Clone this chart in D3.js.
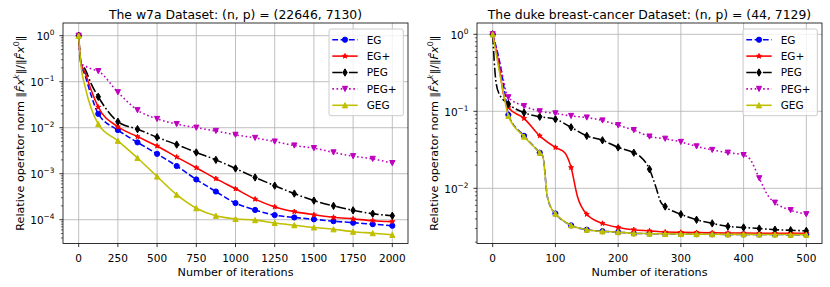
<!DOCTYPE html>
<html>
<head>
<meta charset="utf-8">
<script src="https://cdn.jsdelivr.net/npm/d3@7"></script>
<style>
  body { margin: 0; background: #fff; }
  text { font-family: "DejaVu Sans", sans-serif; fill: #000; }
</style>
</head>
<body>
<svg id="chart" width="830" height="287"></svg>
<script>
// ---- data, [iteration, relative operator norm] ----
const seriesNames = ['EG', 'EG+', 'PEG', 'PEG+', 'GEG'];

const w7aXTicks = [0, 250, 500, 750, 1000, 1250, 1500, 1750, 2000];
const w7aYTicks = [0, -1, -2, -3, -4];   // decades
const w7aEG = [[0,1],[15,0.25],[40,0.14],[80,0.05],[125,0.02],[250,0.0089],[375,0.0048],[500,0.0027],[625,0.00147],[750,0.00075],[875,0.00041],[1000,0.00023],[1125,0.000163],[1250,0.000126],[1375,0.000112],[1500,0.000102],[1625,0.000093],[1750,0.000086],[1875,0.00008],[2000,0.000074]];
const w7aEGplus = [[0,1],[15,0.25],[40,0.16],[80,0.065],[125,0.028],[250,0.0105],[375,0.0064],[500,0.004],[625,0.0023],[750,0.00135],[875,0.00078],[1000,0.00047],[1125,0.00028],[1250,0.00019],[1375,0.00015],[1500,0.000128],[1625,0.000113],[1750,0.000104],[1875,0.000095],[2000,0.000091]];
const w7aPEG = [[0,1],[15,0.25],[40,0.19],[80,0.09],[125,0.047],[250,0.0135],[375,0.0093],[500,0.0062],[625,0.0043],[750,0.0029],[875,0.002],[1000,0.0013],[1125,0.00083],[1250,0.00055],[1375,0.00037],[1500,0.00026],[1625,0.0002],[1750,0.00016],[1875,0.000135],[2000,0.000122]];
const w7aPEGplus = [[0,1],[15,0.25],[40,0.22],[80,0.19],[125,0.17],[250,0.059],[375,0.024],[500,0.0155],[625,0.012],[750,0.01],[875,0.0085],[1000,0.007],[1125,0.006],[1250,0.005],[1375,0.0041],[1500,0.0036],[1625,0.0029],[1750,0.0024],[1875,0.0021],[2000,0.0017]];
const w7aGEG = [[0,1],[15,0.22],[40,0.08],[80,0.026],[125,0.012],[250,0.0052],[375,0.0022],[500,0.00087],[625,0.00035],[750,0.000178],[875,0.000122],[1000,0.000104],[1125,0.000098],[1250,0.000085],[1375,0.000076],[1500,0.000068],[1625,0.000062],[1750,0.000055],[1875,0.000051],[2000,0.000047]];

const dukeXTicks = [0, 100, 200, 300, 400, 500];
const dukeYTicks = [0, -1, -2];
const dukeEG = [[0,1],[12,0.4],[20,0.16],[25,0.09],[50,0.048],[75,0.029],[80,0.026],[87,0.0079],[92,0.0058],[100,0.0047],[125,0.0033],[150,0.0029],[175,0.00277],[200,0.0027],[225,0.0026],[250,0.00258],[275,0.00256],[300,0.00255],[325,0.00254],[350,0.00253],[375,0.00252],[400,0.00252],[425,0.00251],[450,0.00251],[475,0.0025],[500,0.0025]];
const dukeEGplus = [[0,1],[10,0.4],[17,0.17],[25,0.112],[50,0.081],[75,0.048],[100,0.034],[115,0.029],[125,0.0186],[135,0.0079],[150,0.0046],[175,0.0035],[200,0.0031],[225,0.0029],[250,0.0028],[275,0.0027],[300,0.00268],[325,0.00266],[350,0.00264],[375,0.00263],[400,0.00262],[425,0.00261],[450,0.0026],[475,0.0026],[500,0.0026]];
const dukePEG = [[0,1],[5,0.25],[10,0.17],[25,0.125],[50,0.096],[75,0.085],[100,0.079],[125,0.062],[150,0.048],[175,0.042],[200,0.034],[225,0.029],[235,0.026],[250,0.0177],[260,0.0105],[268,0.0066],[275,0.0058],[300,0.0046],[325,0.0039],[350,0.0035],[375,0.0032],[400,0.0031],[425,0.003],[450,0.0029],[475,0.00285],[500,0.0028]];
const dukePEGplus = [[0,1],[12,0.4],[25,0.152],[50,0.117],[75,0.1],[100,0.094],[125,0.087],[150,0.083],[175,0.076],[200,0.066],[225,0.057],[250,0.047],[275,0.044],[300,0.04],[325,0.035],[350,0.0315],[375,0.029],[400,0.027],[410,0.024],[425,0.0135],[440,0.0078],[450,0.0065],[475,0.0052],[500,0.0046]];
const dukeGEG = [[0,1],[10,0.35],[18,0.16],[25,0.087],[50,0.047],[75,0.029],[80,0.026],[87,0.0079],[92,0.0058],[100,0.0047],[125,0.0033],[150,0.0029],[175,0.00276],[200,0.0027],[225,0.0026],[250,0.00258],[275,0.00256],[300,0.00255],[325,0.00254],[350,0.00253],[375,0.00252],[400,0.00252],[425,0.00251],[450,0.00251],[475,0.0025],[500,0.0025]];

// ---- styles (matplotlib-like) ----
const styles = {
  'EG':   { color: '#0000ff', dash: '5.8,2.5', marker: 'o' },
  'EG+':  { color: '#ff0000', dash: null, marker: '*' },
  'PEG':  { color: '#000000', dash: '10,2.5,1.6,2.5', marker: 'd' },
  'PEG+': { color: '#bf00bf', dash: '1.6,2.6', marker: 'v' },
  'GEG':  { color: '#bfbf00', dash: null, marker: '^' }
};
const ms = 5.2;

function markerPath(type) {
  const r = ms / 2;
  if (type === 'o') return d3.symbol(d3.symbolCircle, Math.PI * r * r)();
  if (type === '*') {
    const pts = [];
    for (let i = 0; i < 10; i++) {
      const a = -Math.PI / 2 + i * Math.PI / 5;
      const rr = i % 2 ? r * 0.382 : r;
      pts.push([rr * Math.cos(a), rr * Math.sin(a)]);
    }
    return 'M' + pts.join('L') + 'Z';
  }
  if (type === 'd') {
    const h = ms * 0.707, w = h * 0.6;
    return `M0,${-h}L${w},0L0,${h}L${-w},0Z`;
  }
  if (type === 'v') return `M0,${r}L${-r},${-r}L${r},${-r}Z`;
  return `M0,${-r}L${-r},${r}L${r},${r}Z`;
}

const svg = d3.select('#chart');

function panel(p) {
  const g = svg.append('g');
  const x = d3.scaleLinear().domain(p.xDomain).range([p.left, p.right]);
  const y = d3.scaleLog().domain(p.yDomain).range([p.bottom, p.top]);

  const lo = Math.floor(Math.log10(p.yDomain[0])), hi = Math.ceil(Math.log10(p.yDomain[1]));
  const minor = [];
  for (let e = lo; e < hi; e++) for (let m = 2; m < 10; m++) {
    const v = m * Math.pow(10, e);
    if (v >= p.yDomain[0] && v <= p.yDomain[1]) minor.push(v);
  }

  // grid
  g.append('g').selectAll('line').data(p.xTicks).join('line')
    .attr('x1', d => x(d)).attr('x2', d => x(d))
    .attr('y1', p.top).attr('y2', p.bottom)
    .attr('stroke', '#b0b0b0').attr('stroke-width', 0.8);
  g.append('g').selectAll('line').data(p.yTicks).join('line')
    .attr('x1', p.left).attr('x2', p.right)
    .attr('y1', d => y(Math.pow(10, d))).attr('y2', d => y(Math.pow(10, d)))
    .attr('stroke', '#b0b0b0').attr('stroke-width', 0.8);

  // clip
  const clipId = 'clip' + p.id;
  svg.append('clipPath').attr('id', clipId).append('rect')
    .attr('x', p.left).attr('y', p.top)
    .attr('width', p.right - p.left).attr('height', p.bottom - p.top);

  const line = d3.line().x(d => x(d[0])).y(d => y(d[1])).curve(d3.curveMonotoneX);
  const plot = g.append('g').attr('clip-path', `url(#${clipId})`);

  seriesNames.forEach((name, i) => {
    const s = styles[name];
    const data = p.series[i];
    plot.append('path').datum(data)
      .attr('d', line)
      .attr('fill', 'none')
      .attr('stroke', s.color)
      .attr('stroke-width', 1.56)
      .attr('stroke-dasharray', s.dash)
      .attr('stroke-linejoin', 'round');
    plot.append('g').selectAll('path')
      .data(data.filter(d => d[0] % p.markEvery === 0))
      .join('path')
      .attr('d', markerPath(s.marker))
      .attr('transform', d => `translate(${x(d[0])},${y(d[1])})`)
      .attr('fill', s.color)
      .attr('stroke', s.color)
      .attr('stroke-width', 1);
  });

  // spines
  g.append('rect')
    .attr('x', p.left).attr('y', p.top)
    .attr('width', p.right - p.left).attr('height', p.bottom - p.top)
    .attr('fill', 'none').attr('stroke', '#000').attr('stroke-width', 0.8);

  // x ticks
  const xt = g.append('g').selectAll('g').data(p.xTicks).join('g')
    .attr('transform', d => `translate(${x(d)},${p.bottom})`);
  xt.append('line').attr('y2', 3.6).attr('stroke', '#000').attr('stroke-width', 0.8);
  xt.append('text').attr('y', 18).attr('text-anchor', 'middle')
    .attr('font-size', '10.5px').text(d => d);

  // y ticks
  g.append('g').selectAll('line').data(minor).join('line')
    .attr('x1', p.left).attr('x2', p.left - 2.1)
    .attr('y1', d => y(d)).attr('y2', d => y(d))
    .attr('stroke', '#000').attr('stroke-width', 0.6);
  const yt = g.append('g').selectAll('g').data(p.yTicks).join('g')
    .attr('transform', d => `translate(${p.left},${y(Math.pow(10, d))})`);
  yt.append('line').attr('x2', -3.6).attr('stroke', '#000').attr('stroke-width', 0.8);
  const yl = yt.append('text').attr('x', -8.5).attr('y', 4.3)
    .attr('text-anchor', 'end').attr('font-size', '10.5px');
  yl.append('tspan').text('10');
  yl.append('tspan').attr('dy', -5).attr('font-size', '7.4px')
    .text(d => d === 0 ? '0' : '\u2212' + (-d));

  // title
  g.append('text').attr('x', (p.left + p.right) / 2).attr('y', 18.5)
    .attr('text-anchor', 'middle').attr('font-size', '12.4px').text(p.title);

  // x label
  g.append('text').attr('x', (p.left + p.right) / 2).attr('y', 275.5)
    .attr('text-anchor', 'middle').attr('font-size', '11.2px').text('Number of iterations');

  // y label
  const lab = g.append('text')
    .attr('transform', `translate(${p.left - 39},${(p.top + p.bottom) / 2}) rotate(-90)`)
    .attr('text-anchor', 'middle').attr('font-size', '11.2px');
  lab.append('tspan').text('Relative operator norm \u2016');
  lab.append('tspan').attr('font-style', 'italic').text('F\u0302x');
  lab.append('tspan').attr('font-style', 'italic').attr('font-size', '7.9px').attr('dy', -4.8).text('k');
  lab.append('tspan').attr('dy', 4.8).text('\u2016/\u2016');
  lab.append('tspan').attr('font-style', 'italic').text('F\u0302x');
  lab.append('tspan').attr('font-size', '7.9px').attr('dy', -4.8).text('0');
  lab.append('tspan').attr('dy', 4.8).text('\u2016');

  // legend
  const bx = p.right - 79, by = p.top + 6;
  const lg = g.append('g');
  lg.append('rect').attr('x', bx).attr('y', by).attr('width', 74.3).attr('height', 86.7)
    .attr('rx', 2).attr('fill', '#fff').attr('fill-opacity', 0.8)
    .attr('stroke', '#cccccc').attr('stroke-width', 1);
  seriesNames.forEach((name, i) => {
    const s = styles[name];
    const cy = by + 10.7 + i * 16.4;
    lg.append('line').attr('x1', bx + 3.3).attr('x2', bx + 28.7)
      .attr('y1', cy).attr('y2', cy)
      .attr('stroke', s.color).attr('stroke-width', 1.56)
      .attr('stroke-dasharray', s.dash);
    lg.append('path').attr('d', markerPath(s.marker))
      .attr('transform', `translate(${bx + 16},${cy})`)
      .attr('fill', s.color).attr('stroke', s.color).attr('stroke-width', 1);
    lg.append('text').attr('x', bx + 37.7).attr('y', cy + 3.8)
      .attr('font-size', '10.5px').text(name);
  });
}

panel({
  id: 'a', left: 63, right: 408, top: 23, bottom: 243.5,
  xDomain: [-100, 2100], yDomain: [Math.pow(10, -4.517), Math.pow(10, 0.276)],
  xTicks: w7aXTicks, yTicks: w7aYTicks, markEvery: 125,
  title: 'The w7a Dataset: (n, p) = (22646, 7130)',
  series: [w7aEG, w7aEGplus, w7aPEG, w7aPEGplus, w7aGEG]
});
panel({
  id: 'b', left: 477, right: 822, top: 23, bottom: 243.5,
  xDomain: [-25, 525], yDomain: [Math.pow(10, -2.717), Math.pow(10, 0.147)],
  xTicks: dukeXTicks, yTicks: dukeYTicks, markEvery: 25,
  title: 'The duke breast-cancer Dataset: (n, p) = (44, 7129)',
  series: [dukeEG, dukeEGplus, dukePEG, dukePEGplus, dukeGEG]
});
</script>
</body>
</html>
